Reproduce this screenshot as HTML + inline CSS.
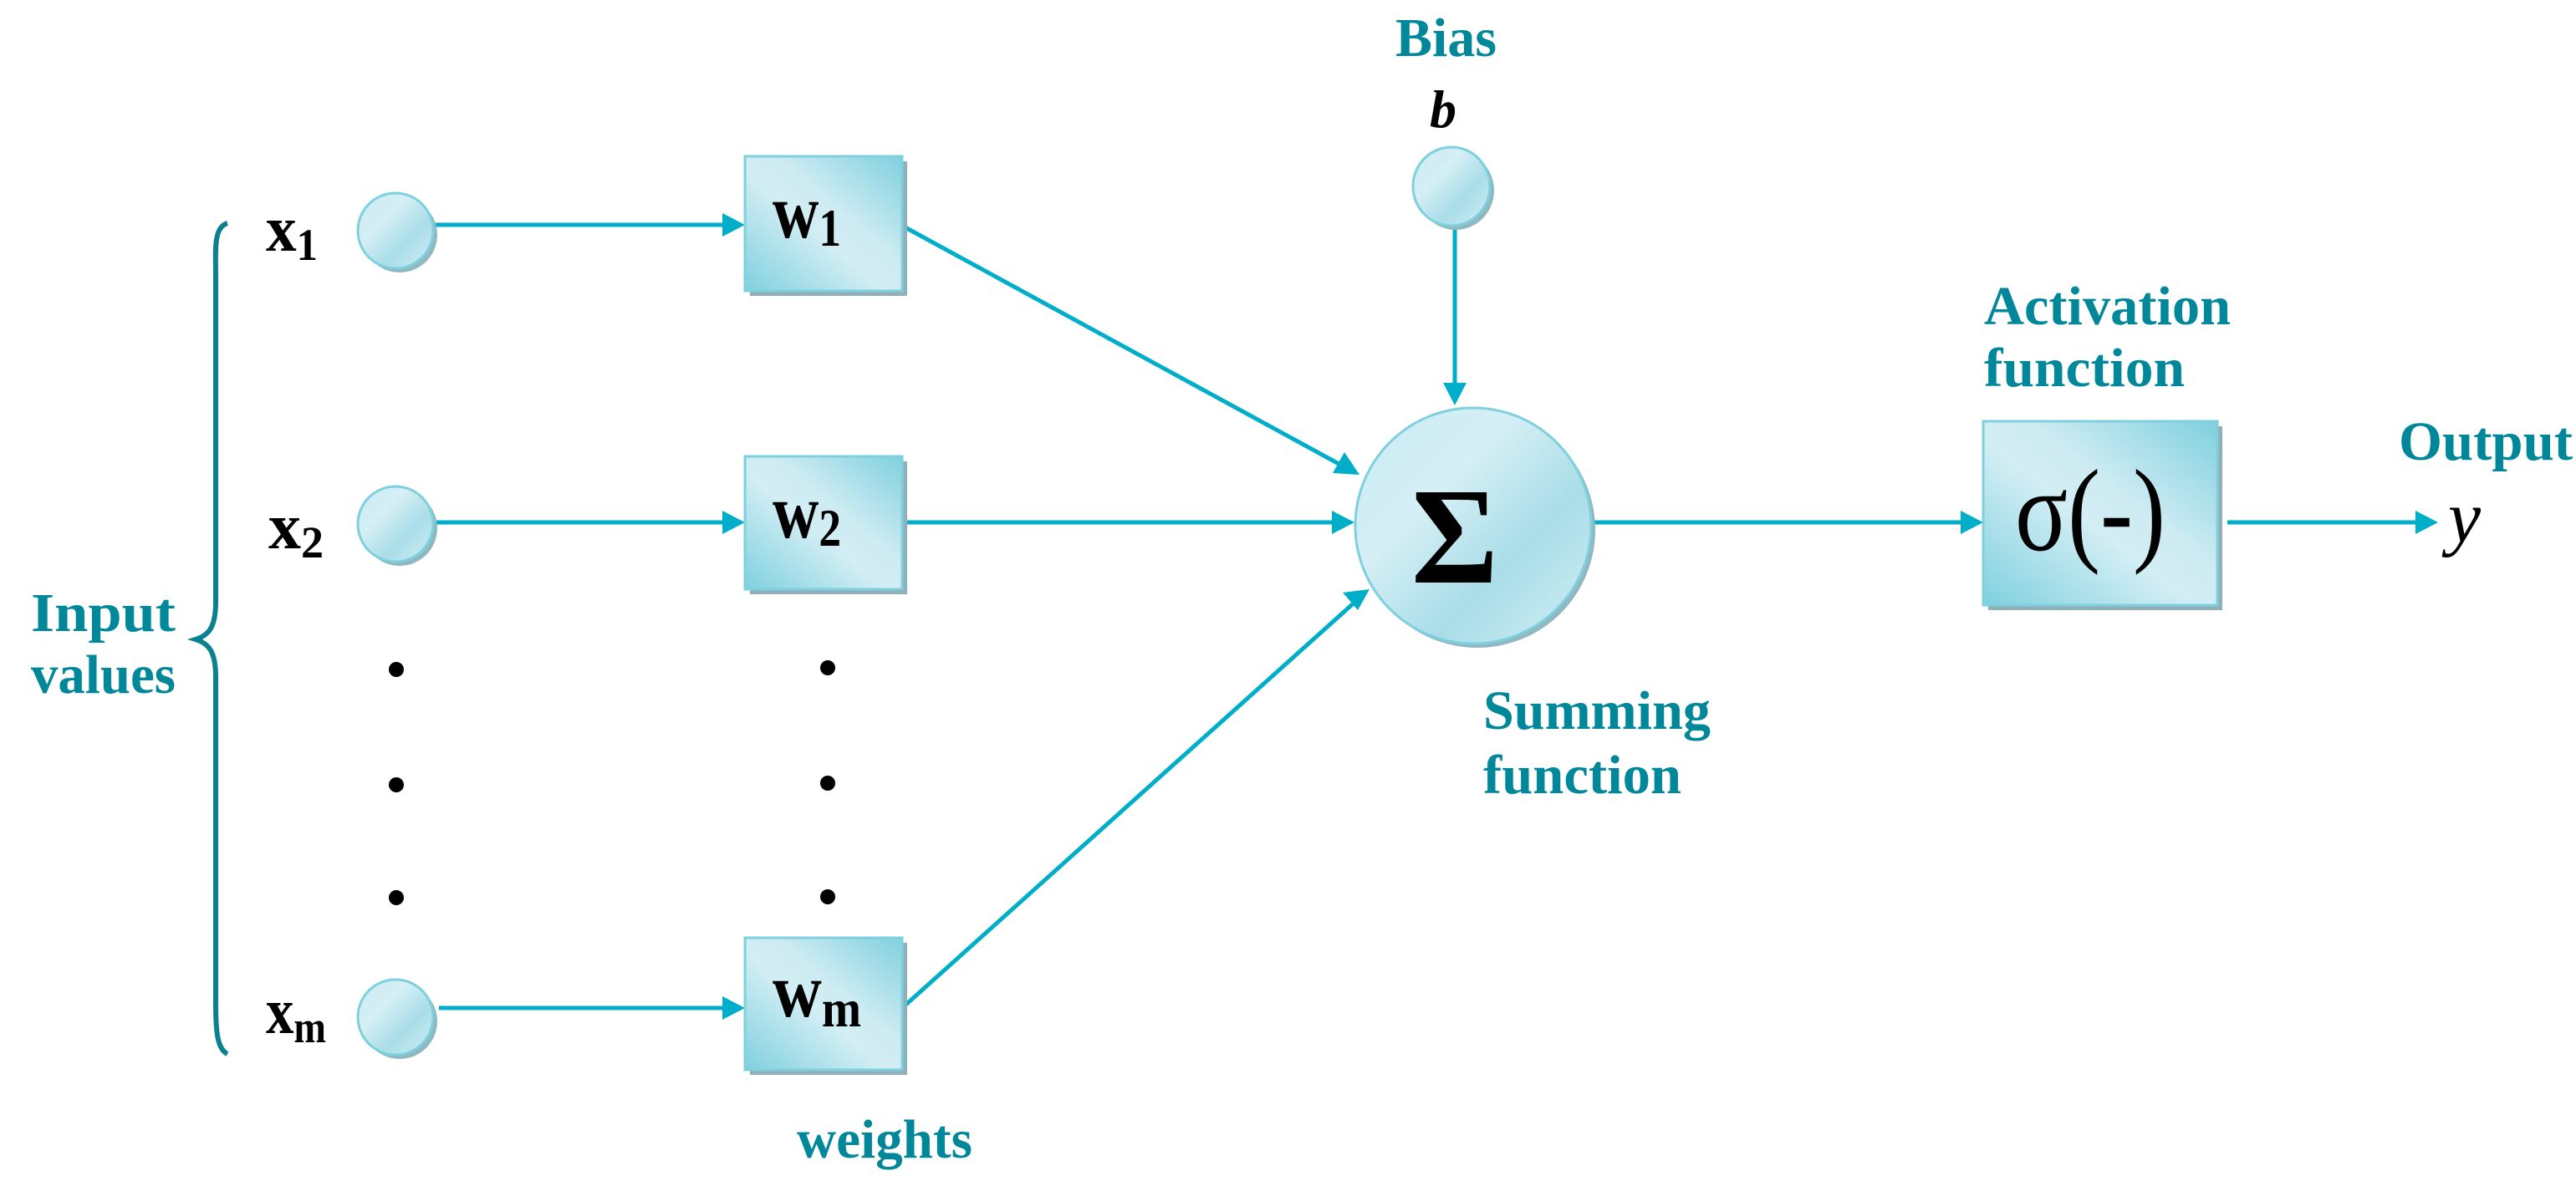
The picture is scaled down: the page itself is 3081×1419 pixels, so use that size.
<!DOCTYPE html>
<html><head><meta charset="utf-8"><style>
html,body{margin:0;padding:0;background:#fff;}
svg{display:block;}
text{font-family:"Liberation Serif",serif;}
.t{fill:#00879a;font-weight:bold;font-size:66px;}
</style></head><body>
<svg width="3081" height="1419" viewBox="0 0 3081 1419" xmlns="http://www.w3.org/2000/svg">
<defs>
<linearGradient id="g" x1="0" y1="1" x2="1" y2="0">
<stop offset="0" stop-color="#7fd0df"/><stop offset="0.45" stop-color="#d3eef4"/><stop offset="0.6" stop-color="#cdebf2"/><stop offset="1" stop-color="#7fd0df"/>
</linearGradient>
<linearGradient id="gc" x1="0" y1="0" x2="1" y2="1">
<stop offset="0" stop-color="#c8ebf2"/><stop offset="0.35" stop-color="#d5eff5"/><stop offset="0.65" stop-color="#a9dde8"/><stop offset="1" stop-color="#d2eef4"/>
</linearGradient>
</defs>
<g fill="none" stroke="#00aec9" stroke-width="5">
<line x1="520" y1="269" x2="870" y2="269"/>
<line x1="520" y1="625" x2="870" y2="625"/>
<line x1="525" y1="1206" x2="870" y2="1206"/>
<line x1="1079" y1="270" x2="1605" y2="557"/>
<line x1="1079" y1="625" x2="1600" y2="625"/>
<line x1="1079" y1="1206" x2="1622" y2="719"/>
<line x1="1740" y1="274" x2="1740" y2="465"/>
<line x1="1903" y1="625" x2="2352" y2="625"/>
<line x1="2664" y1="625" x2="2896" y2="625"/>
</g>
<g fill="#00aec9">
<polygon points="891,269 864,255 864,283"/>
<polygon points="891,625 864,611 864,639"/>
<polygon points="891,1206 864,1192 864,1220"/>
<polygon points="1620,625 1593,611 1593,639"/>
<polygon points="2372,625 2345,611 2345,639"/>
<polygon points="2916,625 2889,611 2889,639"/>
<polygon points="1740,485 1726,458 1754,458"/>
<polygon points="1626,568 1594,566 1608,541"/>
<polygon points="1638,705 1624,730 1606,709"/>
</g>
<path d="M272,267 C255,272 258,300 258,330 L258,720 C258,750 250,760 234,765 C250,770 258,780 258,810 L258,1200 C258,1235 260,1255 272,1261" fill="none" stroke="#0a8090" stroke-width="6"/>
<g>
<circle cx="478" cy="281" r="45" fill="#8fb8c0"/><circle cx="473" cy="276" r="45" fill="url(#gc)" stroke="#7fd0df" stroke-width="3"/>
<circle cx="478" cy="632" r="45" fill="#8fb8c0"/><circle cx="473" cy="627" r="45" fill="url(#gc)" stroke="#7fd0df" stroke-width="3"/>
<circle cx="478" cy="1222" r="45" fill="#8fb8c0"/><circle cx="473" cy="1217" r="45" fill="url(#gc)" stroke="#7fd0df" stroke-width="3"/>
<ellipse cx="1741" cy="228" rx="46" ry="47" fill="#8fb8c0"/><ellipse cx="1736" cy="223" rx="46" ry="47" fill="url(#gc)" stroke="#7fd0df" stroke-width="3"/>
<circle cx="1767" cy="634" r="141" fill="#8fb8c0"/><circle cx="1762" cy="629" r="141" fill="url(#gc)" stroke="#7fd0df" stroke-width="3"/>
</g>
<g>
<rect x="897" y="193" width="188" height="161" fill="#8fb0b8"/><rect x="891" y="187" width="188" height="161" fill="url(#g)" stroke="#7fd0df" stroke-width="3"/>
<rect x="897" y="552" width="188" height="159" fill="#8fb0b8"/><rect x="891" y="546" width="188" height="159" fill="url(#g)" stroke="#7fd0df" stroke-width="3"/>
<rect x="897" y="1128" width="188" height="158" fill="#8fb0b8"/><rect x="891" y="1122" width="188" height="158" fill="url(#g)" stroke="#7fd0df" stroke-width="3"/>
<rect x="2378" y="510" width="280" height="220" fill="#8fb0b8"/><rect x="2372" y="504" width="280" height="220" fill="url(#g)" stroke="#7fd0df" stroke-width="3"/>
</g>
<g fill="#000">
<circle cx="474" cy="801" r="9"/><circle cx="474" cy="939" r="9"/><circle cx="474" cy="1074" r="9"/>
<circle cx="990" cy="799" r="9"/><circle cx="990" cy="937" r="9"/><circle cx="990" cy="1073" r="9"/>
</g>
<g font-weight="bold" fill="#000">
<text x="318" y="300" font-size="78" textLength="62" lengthAdjust="spacingAndGlyphs">x<tspan font-size="54" dy="11">1</tspan></text>
<text x="321" y="656" font-size="78" textLength="66" lengthAdjust="spacingAndGlyphs">x<tspan font-size="54" dy="11">2</tspan></text>
<text x="318" y="1236" font-size="78" textLength="72" lengthAdjust="spacingAndGlyphs">x<tspan font-size="54" dy="11">m</tspan></text>
<text x="924" y="284" font-size="92" textLength="82" lengthAdjust="spacingAndGlyphs">w<tspan font-size="64" dy="10">1</tspan></text>
<text x="924" y="643" font-size="92" textLength="82" lengthAdjust="spacingAndGlyphs">w<tspan font-size="64" dy="10">2</tspan></text>
<text x="924" y="1216" font-size="92" textLength="106" lengthAdjust="spacingAndGlyphs">w<tspan font-size="64" dy="12">m</tspan></text>
<text x="1688" y="697" font-size="165" textLength="104" lengthAdjust="spacingAndGlyphs">Σ</text>
</g>
<text x="2410" y="658" font-size="140" fill="#000" textLength="180" lengthAdjust="spacingAndGlyphs">σ(-)</text>
<text x="1710" y="152" font-size="64" font-style="italic" font-weight="bold" fill="#000">b</text>
<text x="2928" y="648" font-size="88" font-style="italic" fill="#000">y</text>
<text class="t" x="37" y="755" textLength="173" lengthAdjust="spacingAndGlyphs">Input</text>
<text class="t" x="37" y="829" textLength="173" lengthAdjust="spacingAndGlyphs">values</text>
<text class="t" x="953" y="1385" textLength="210" lengthAdjust="spacingAndGlyphs">weights</text>
<text class="t" x="1669" y="67" textLength="121" lengthAdjust="spacingAndGlyphs">Bias</text>
<text class="t" x="2373" y="388" textLength="295" lengthAdjust="spacingAndGlyphs">Activation</text>
<text class="t" x="2373" y="462" textLength="240" lengthAdjust="spacingAndGlyphs">function</text>
<text class="t" x="2869" y="550" textLength="208" lengthAdjust="spacingAndGlyphs">Output</text>
<text class="t" x="1774" y="872" textLength="272" lengthAdjust="spacingAndGlyphs">Summing</text>
<text class="t" x="1774" y="949" textLength="237" lengthAdjust="spacingAndGlyphs">function</text>
</svg>
</body></html>
